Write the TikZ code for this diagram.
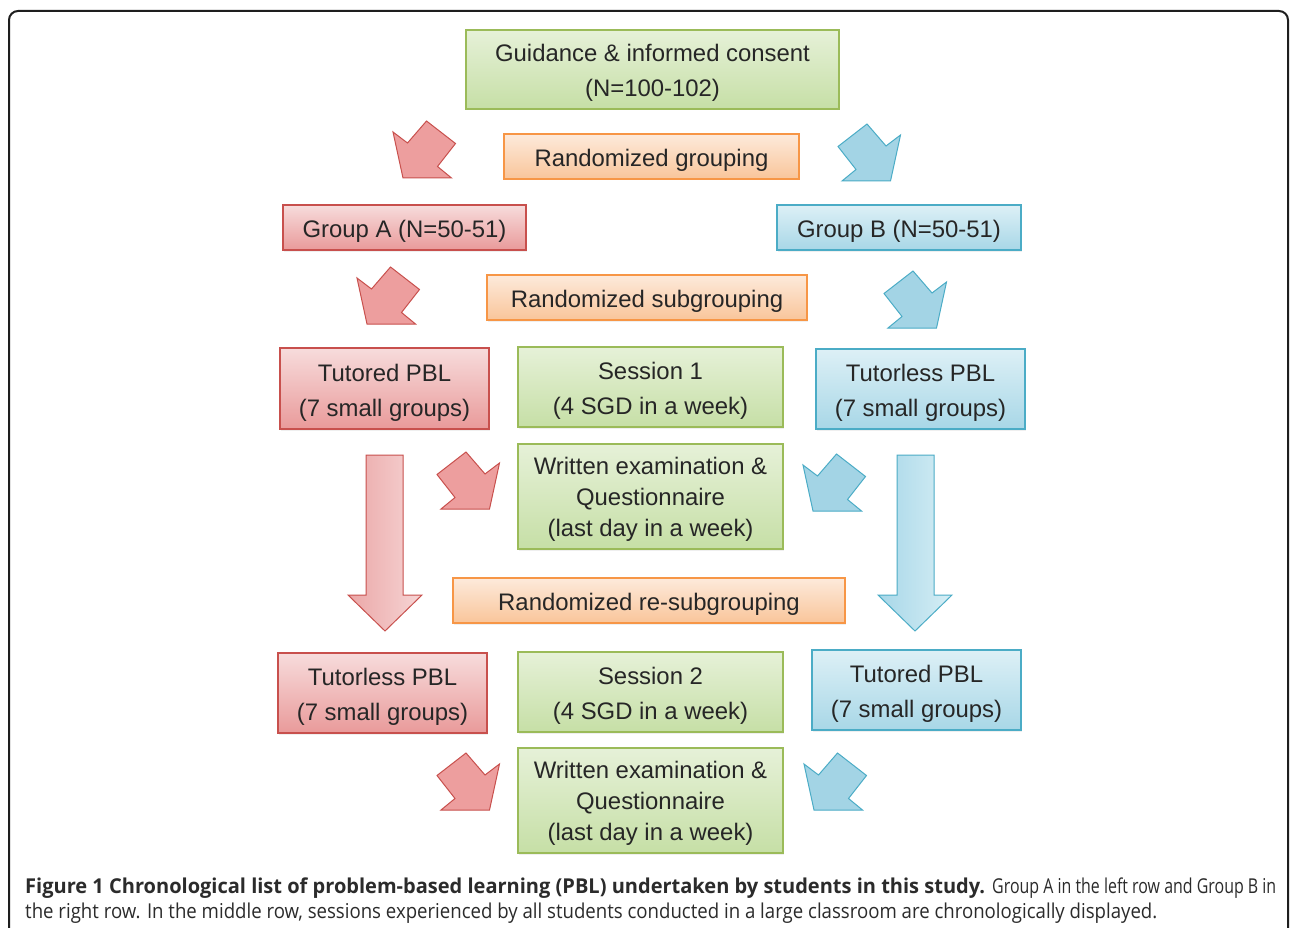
\documentclass[tikz,border=0pt]{standalone}
\usepackage{fontspec}
\setmainfont{Liberation Sans}
\newfontfamily\capfont{Open Sans}
\usepackage{graphicx}
\usetikzlibrary{shadows}
\definecolor{txt}{HTML}{262626}
\definecolor{frame}{HTML}{1E1E1E}
\definecolor{gB}{HTML}{9BBB59}\definecolor{gT}{HTML}{E6F1D8}\definecolor{gBo}{HTML}{C6DFA6}
\definecolor{oB}{HTML}{F79646}\definecolor{oT}{HTML}{FDEADB}\definecolor{oBo}{HTML}{F9C59A}
\definecolor{rB}{HTML}{C8504D}\definecolor{rT}{HTML}{F7DCDC}\definecolor{rBo}{HTML}{E99A9A}
\definecolor{bB}{HTML}{4BACC6}\definecolor{bT}{HTML}{DDF0F6}\definecolor{bBo}{HTML}{A8D7E7}
\definecolor{rA}{HTML}{ED9E9E}\definecolor{bA}{HTML}{A3D4E5}
\definecolor{rL}{HTML}{EBA7A7}\definecolor{rR}{HTML}{F6D5D5}
\definecolor{bL}{HTML}{A7D7E8}\definecolor{bR}{HTML}{D6EEF5}
\definecolor{captxt}{HTML}{2B2B2B}
\newcommand{\bx}[1]{\raisebox{-3pt}[\height][\depth]{\begin{tabular}{@{}c@{}}#1\end{tabular}}}
\tikzset{
  box/.style={rectangle, inner sep=0pt, text=txt,
    font=\fontsize{23.9}{35}\selectfont, line width=1.1pt,
    drop shadow={shadow xshift=1pt, shadow yshift=-1.5pt, opacity=0.12}},
  gbox/.style={box, draw=gB, top color=gT, bottom color=gBo},
  obox/.style={box, draw=oB, top color=oT, bottom color=oBo},
  rbox/.style={box, draw=rB, top color=rT, bottom color=rBo},
  bbox/.style={box, draw=bB, top color=bT, bottom color=bBo},
  tight/.style={font=\fontsize{23.9}{31}\selectfont},
  redarr/.style={fill=rA, draw=rB, line width=1pt, line join=miter},
  bluarr/.style={fill=bA, draw=bB, line width=1pt, line join=miter},
  pics/bentdl/.style={code={\filldraw[#1] (0,11) -- (14.5,22) -- (33.5,0) -- (62.5,22.5) -- (44.5,45.5) -- (58.5,57) -- (10,57) -- cycle;}},
  pics/bentdr/.style={code={\filldraw[#1] (62.5,11) -- (48,22) -- (29,0) -- (0,22.5) -- (18,45.5) -- (4,57) -- (52.5,57) -- cycle;}},
  captionline/.style={anchor=base west, inner sep=0pt, text=captxt, font=\capfont\fontsize{20.5}{26}\selectfont},
}
\begin{document}
\begin{tikzpicture}[x=1pt,y=-1pt]
\useasboundingbox (0,0) rectangle (1290,928);
\fill[white] (0,0) rectangle (1290,928);
\begin{scope}
\clip (0,0) rectangle (1290,928);
\draw[line width=2pt, frame, rounded corners=9pt] (9,11) rectangle (1288,980);
\end{scope}

% boxes
\node[gbox, minimum width=373pt, minimum height=79pt] (consent) at (652.5,69.5) {\bx{Guidance \& informed consent\\(N=100-102)}};
\node[obox, minimum width=295pt, minimum height=45pt] (grp) at (651.5,156.5) {\bx{Randomized grouping}};
\node[rbox, minimum width=243pt, minimum height=45pt] (ga) at (404.5,227.5) {\bx{Group A (N=50-51)}};
\node[bbox, minimum width=244pt, minimum height=45pt] (gb) at (899,227.5) {\bx{Group B (N=50-51)}};
\node[obox, minimum width=320pt, minimum height=45pt] (sub) at (647,297.5) {\bx{Randomized subgrouping}};
\node[rbox, minimum width=209pt, minimum height=81pt] (ta1) at (384.5,388.5) {\bx{Tutored PBL\\(7 small groups)}};
\node[gbox, minimum width=265pt, minimum height=80pt] (s1) at (650.5,387) {\bx{Session 1\\(4 SGD in a week)}};
\node[bbox, minimum width=209pt, minimum height=80pt] (tb1) at (920.5,389) {\bx{Tutorless PBL\\(7 small groups)}};
\node[gbox, tight, minimum width=265pt, minimum height=105pt] (e1) at (650.5,496.5) {\bx{Written examination \&\\Questionnaire\\(last day in a week)}};
\node[obox, minimum width=392pt, minimum height=45pt] (resub) at (649,600.5) {\bx{Randomized re-subgrouping}};
\node[rbox, minimum width=209pt, minimum height=80pt] (ta2) at (382.5,693) {\bx{Tutorless PBL\\(7 small groups)}};
\node[gbox, minimum width=265pt, minimum height=80pt] (s2) at (650.5,692) {\bx{Session 2\\(4 SGD in a week)}};
\node[bbox, minimum width=209pt, minimum height=80pt] (tb2) at (916.5,690) {\bx{Tutored PBL\\(7 small groups)}};
\node[gbox, tight, minimum width=265pt, minimum height=105pt] (e2) at (650.5,800.5) {\bx{Written examination \&\\Questionnaire\\(last day in a week)}};

% bent arrows
\pic at (393,121) {bentdl=redarr};
\pic at (838,124) {bentdr=bluarr};
\pic at (357,267) {bentdl=redarr};
\pic at (884,271) {bentdr=bluarr};
\pic at (437,452) {bentdr=redarr};
\pic at (803,454) {bentdl=bluarr};
\pic at (437,753) {bentdr=redarr};
\pic at (804,753) {bentdl=bluarr};

% long down arrows
\draw[draw=rB, line width=1pt, left color=rL, right color=rR, line join=miter]
  (366,455) -- (403,455) -- (403,595) -- (422,595) -- (385,631) -- (348,595) -- (366,595) -- cycle;
\draw[draw=bB, line width=1pt, left color=bL, right color=bR, line join=miter]
  (897,455) -- (934,455) -- (934,595) -- (952,595) -- (915,631) -- (878,595) -- (897,595) -- cycle;

% caption
\node[captionline] (cap1) at (25,893)
  {\resizebox{960pt}{\height}{\textbf{Figure 1 Chronological list of problem-based learning (PBL) undertaken by students in this study.}}\hspace{7pt}\resizebox{284pt}{\height}{Group A in the left row and Group B in}};
\node[captionline] (cap2) at (25,918)
  {\resizebox{1132pt}{\height}{the right row. In the middle row, sessions experienced by all students conducted in a large classroom are chronologically displayed.}};
\end{tikzpicture}
\end{document}
